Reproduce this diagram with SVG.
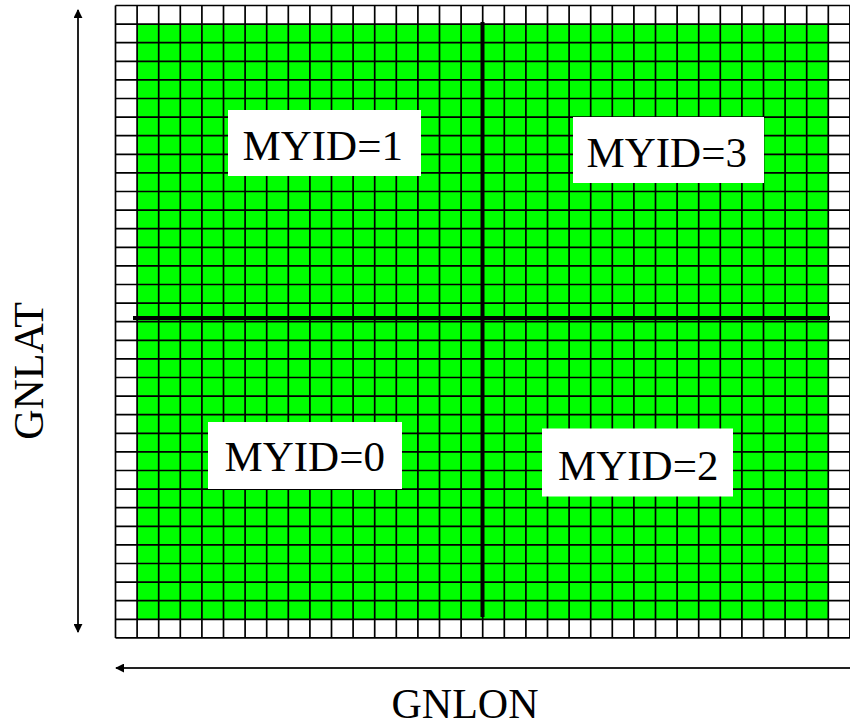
<svg xmlns="http://www.w3.org/2000/svg" width="850" height="727" viewBox="0 0 850 727">
  <style>
    .grid { fill: none; stroke: #000; stroke-width: 1.7; }
    .divider { stroke: #000; stroke-width: 4; }
    .label-box { fill: #fff; }
    .label { font-family: "Liberation Serif", "Times New Roman", serif; font-size: 43px; fill: #000; }
    .axis-title { font-family: "Liberation Serif", "Times New Roman", serif; font-size: 42px; fill: #000; }
    .axis { stroke: #222; stroke-width: 2; fill: none; }
  </style>
  <defs>
    <marker id="arrowhead" viewBox="0 0 10 10" refX="9" refY="5" markerWidth="4.5" markerHeight="4.5" orient="auto-start-reverse" markerUnits="strokeWidth">
      <path d="M0 0L10 5L0 10z" fill="#000"/>
    </marker>
  </defs>

  <rect width="850" height="727" fill="#fff"/>

  <!-- 34 x 34 cell mesh with the 32 x 32 interior domain in green -->
  <g id="mesh" transform="translate(115.5,5.5) scale(21.6,18.6)">
    <rect x="1" y="1" width="32" height="32" fill="#00ff00"/>
    <path class="grid" vector-effect="non-scaling-stroke" d="M0 0V34M1 0V34M2 0V34M3 0V34M4 0V34M5 0V34M6 0V34M7 0V34M8 0V34M9 0V34M10 0V34M11 0V34M12 0V34M13 0V34M14 0V34M15 0V34M16 0V34M17 0V34M18 0V34M19 0V34M20 0V34M21 0V34M22 0V34M23 0V34M24 0V34M25 0V34M26 0V34M27 0V34M28 0V34M29 0V34M30 0V34M31 0V34M32 0V34M33 0V34M34 0V34M0 0H34M0 1H34M0 2H34M0 3H34M0 4H34M0 5H34M0 6H34M0 7H34M0 8H34M0 9H34M0 10H34M0 11H34M0 12H34M0 13H34M0 14H34M0 15H34M0 16H34M0 17H34M0 18H34M0 19H34M0 20H34M0 21H34M0 22H34M0 23H34M0 24H34M0 25H34M0 26H34M0 27H34M0 28H34M0 29H34M0 30H34M0 31H34M0 32H34M0 33H34M0 34H34"/>
  </g>

  <!-- quadrant split lines -->
  <g id="dividers">
    <line class="divider" x1="482.5" y1="22" x2="482.5" y2="617"/>
    <line class="divider" x1="133" y1="318" x2="830" y2="318"/>
  </g>

  <g id="myid1">
    <rect class="label-box" x="228" y="110" width="193" height="66"/>
    <text class="label" x="242.5" y="159.5">MYID=1</text>
  </g>
  <g id="myid3">
    <rect class="label-box" x="573" y="117" width="191" height="66"/>
    <text class="label" x="586.5" y="166.5">MYID=3</text>
  </g>
  <g id="myid0">
    <rect class="label-box" x="208" y="422" width="194" height="67"/>
    <text class="label" x="224.5" y="471">MYID=0</text>
  </g>
  <g id="myid2">
    <rect class="label-box" x="542" y="428.5" width="191" height="68"/>
    <text class="label" x="558" y="479.5">MYID=2</text>
  </g>

  <!-- axis arrows -->
  <g id="connectors">
    <line class="axis" x1="78" y1="632" x2="78" y2="10" marker-start="url(#arrowhead)" marker-end="url(#arrowhead)"/>
    <line class="axis" x1="116" y1="668" x2="852" y2="668" marker-start="url(#arrowhead)"/>
  </g>

  <g id="gnlat">
    <text class="axis-title" transform="translate(43,371) rotate(-90)" text-anchor="middle">GNLAT</text>
  </g>
  <g id="gnlon">
    <text class="axis-title" x="465" y="718" text-anchor="middle">GNLON</text>
  </g>
</svg>
